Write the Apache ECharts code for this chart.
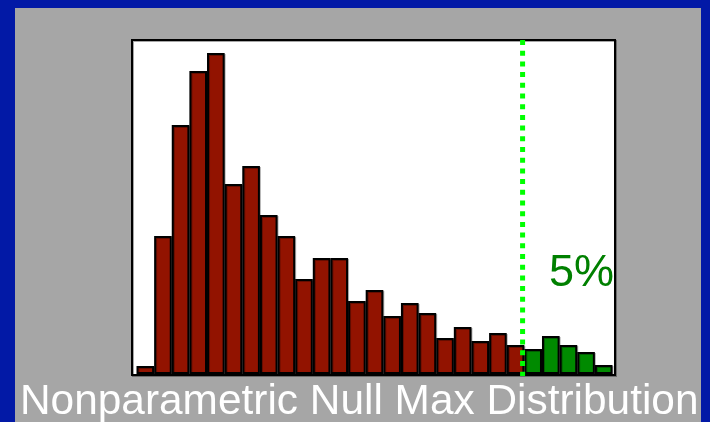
<!DOCTYPE html>
<html lang="en">
<head>
    <meta charset="UTF-8">
    <title>Nonparametric Null Max Distribution</title>
    <script src="https://cdn.jsdelivr.net/npm/echarts@6/dist/echarts.min.js"></script>
</head>
<body style="margin:0; background:#0219A6;">
    <div id="main" style="width: 710px; height: 422px;"></div>
    <script>
        // histogram bins of the permutation max statistic
        const bins = ['1', '2', '3', '4', '5', '6', '7', '8', '9', '10', '11', '12', '13', '14',
            '15', '16', '17', '18', '19', '20', '21', '22', '23', '24', '25', '26', '27'];
        const counts = [8, 138, 249, 303, 321, 190, 208, 159, 138, 95, 116, 116, 73, 84,
            58, 71, 61, 36, 47, 33, 41, 29, 25, 38, 29, 22, 9];
        // bins at or past this index fall in the top 5% tail
        const tailStart = 22;
        // threshold position on the bin scale
        const threshold = 21.9;
        const yMax = 334;

        const red = '#921300';
        const green = '#008A00';

        const barData = counts.map((v, i) => ({
            value: v,
            itemStyle: { color: i >= tailStart ? green : red }
        }));

        const option = {
            backgroundColor: '#0219A6',
            animation: false,
            grid: { left: 136.5, right: 97.5, top: 40, bottom: 48 },
            xAxis: [
                { type: 'category', data: bins, show: false },
                { type: 'value', min: 0, max: bins.length, show: false }
            ],
            yAxis: { type: 'value', min: 0, max: yMax, show: false },
            graphic: [
                {
                    type: 'rect', z: -10, silent: true,
                    shape: { x: 15, y: 8, width: 686, height: 420 },
                    style: { fill: '#A6A6A6' }
                },
                {
                    type: 'rect', z: -5, silent: true,
                    shape: { x: 132, y: 40, width: 483, height: 335 },
                    style: {
                        fill: '#FFFFFF', stroke: '#000000', lineWidth: 2,
                        shadowColor: 'rgba(0,0,0,0.35)', shadowOffsetX: 1, shadowOffsetY: 1
                    }
                },
                {
                    type: 'text', left: 549, top: 251, z: 10,
                    style: {
                        text: '5%', fill: '#008000',
                        font: '45px "Liberation Sans", Arial, sans-serif'
                    }
                },
                {
                    type: 'text', left: 20, top: 381, z: 10,
                    style: {
                        text: 'Nonparametric Null Max Distribution', fill: '#FFFFFF',
                        font: '42.4px "Liberation Sans", Arial, sans-serif'
                    }
                }
            ],
            series: [
                {
                    type: 'bar',
                    xAxisIndex: 0,
                    data: barData,
                    barCategoryGap: '0%',
                    itemStyle: {
                        borderColor: '#000000',
                        borderWidth: 2,
                        shadowColor: 'rgba(0,0,0,0.3)',
                        shadowOffsetX: 1,
                        shadowOffsetY: 1
                    }
                },
                {
                    type: 'line',
                    xAxisIndex: 1,
                    data: [[threshold, yMax], [threshold, -2]],
                    symbol: 'none',
                    clip: false,
                    z: 5,
                    lineStyle: { color: '#00FF00', width: 5, type: [5, 5.7], cap: 'butt' }
                }
            ]
        };

        const myChart = echarts.init(document.getElementById('main'));
        myChart.setOption(option);
    </script>
</body>
</html>
